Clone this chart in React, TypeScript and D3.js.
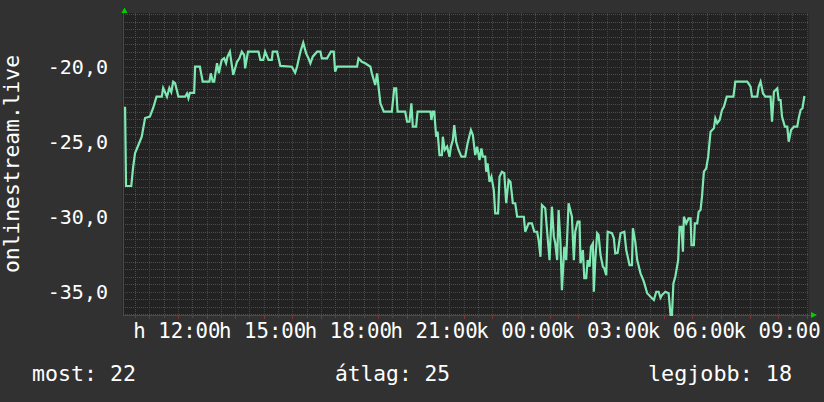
import * as d3 from 'd3';

// minutes after 10:00 (Monday) and temperature readings
const minutes = [
  9, 11, 22, 26, 30, 37, 44, 51, 61, 68,
  75, 86, 89, 97, 102, 106, 110, 114, 121, 135,
  139, 142, 145, 154, 156, 166, 172, 186, 189, 193,
  196, 202, 206, 208, 212, 217, 221, 224, 229, 236,
  244, 249, 254, 259, 261, 267, 289, 293, 299, 303,
  310, 317, 319, 328, 335, 359, 366, 370, 377, 383,
  389, 394, 398, 403, 412, 419, 422, 433, 441, 447,
  450, 454, 496, 499, 506, 513, 524, 527, 534, 538,
  541, 545, 552, 569, 574, 578, 581, 597, 601, 606,
  610, 613, 620, 623, 650, 652, 655, 658, 662, 665,
  669, 674, 676, 680, 685, 690, 693, 697, 700, 704,
  709, 715, 723, 728, 735, 739, 744, 748, 753, 757,
  760, 765, 767, 770, 774, 778, 783, 786, 792, 795,
  800, 805, 809, 814, 818, 823, 828, 832, 846, 849,
  856, 863, 868, 874, 877, 881, 884, 891, 895, 900,
  905, 909, 912, 916, 919, 923, 926, 931, 935, 940,
  947, 951, 954, 959, 963, 965, 970, 973, 977, 980,
  984, 987, 991, 993, 996, 1000, 1003, 1007, 1012, 1015,
  1019, 1022, 1031, 1035, 1038, 1043, 1049, 1057, 1061, 1068,
  1073, 1075, 1080, 1084, 1091, 1098, 1105, 1112, 1119, 1124,
  1129, 1133, 1136, 1143, 1150, 1154, 1157, 1160, 1164, 1170,
  1173, 1177, 1180, 1182, 1187, 1192, 1196, 1198, 1203, 1205,
  1210, 1213, 1217, 1220, 1224, 1229, 1233, 1238, 1245, 1248,
  1252, 1257, 1262, 1266, 1272, 1286, 1290, 1315, 1322, 1325,
  1336, 1339, 1343, 1348, 1353, 1364, 1367, 1371, 1378, 1381,
  1385, 1388, 1394, 1399, 1402, 1407, 1413, 1420, 1423, 1427,
  1431, 1435,
];

const temps = [
  -22.67, -27.95, -27.95, -26.67, -25.75, -25.22, -24.67, -23.42, -23.33, -22.75,
  -22.0, -22.0, -21.42, -22.0, -21.42, -21.69, -21.0, -21.1, -22.0, -22.0,
  -21.78, -22.1, -21.75, -21.75, -20.0, -20.0, -21.0, -21.0, -20.44, -21.0,
  -21.0, -19.77, -20.44, -20.09, -19.55, -19.44, -19.77, -19.33, -19.0, -20.55,
  -19.67, -19.44, -19.0, -19.22, -20.11, -19.0, -19.0, -19.55, -19.55, -19.0,
  -19.55, -19.55, -19.0, -19.0, -19.95, -20.0, -20.4, -20.0, -19.0, -18.4,
  -19.11, -19.44, -19.77, -19.33, -19.0, -19.0, -19.44, -19.44, -19.0, -19.0,
  -20.33, -20.0, -20.0, -19.44, -19.67, -19.77, -20.0, -20.44, -21.22, -20.44,
  -21.33, -22.44, -23.0, -23.0, -21.44, -21.44, -23.0, -23.0, -23.67, -23.67,
  -22.44, -24.0, -24.0, -23.0, -23.0, -23.55, -23.0, -23.0, -24.67, -24.33,
  -25.89, -25.89, -24.67, -25.55, -25.33, -26.0, -25.33, -24.89, -23.89, -25.0,
  -25.55, -26.0, -26.0, -25.1, -24.22, -24.55, -25.89, -25.33, -26.22, -25.44,
  -26.0, -26.0, -27.0, -26.44, -27.67, -27.33, -28.22, -29.77, -29.77, -27.33,
  -27.0, -27.1, -29.1, -27.55, -27.67, -29.1, -29.1, -30.0, -30.0, -31.0,
  -30.44, -30.44, -31.0, -31.0, -31.55, -32.67, -29.22, -29.44, -31.0, -32.89,
  -29.33, -31.33, -31.77, -32.89, -29.55, -31.77, -34.89, -32.0, -32.89, -29.1,
  -30.0, -32.89, -31.0, -30.33, -30.33, -33.1, -32.22, -34.1, -34.1, -32.89,
  -33.33, -32.0, -31.77, -35.0, -32.89, -31.1, -31.22, -32.55, -33.33, -33.44,
  -33.89, -31.0, -31.1, -31.44, -32.44, -32.4, -31.1, -31.0, -32.22, -33.22,
  -33.22, -30.77, -31.67, -32.89, -33.77, -34.33, -35.1, -35.33, -35.55, -35.0,
  -35.0, -35.4, -35.22, -35.0, -35.1, -36.55, -36.55, -34.44, -34.0, -32.89,
  -30.67, -30.67, -32.33, -30.0, -30.44, -30.1, -30.1, -31.89, -31.89, -30.44,
  -30.44, -29.67, -29.55, -28.67, -27.0, -26.77, -26.0, -24.33, -24.1, -23.44,
  -23.77, -23.55, -22.89, -22.67, -22.0, -22.0, -21.0, -21.0, -21.33, -22.0,
  -22.0, -21.33, -21.0, -21.77, -22.0, -22.0, -23.67, -21.67, -21.44, -22.22,
  -22.22, -23.33, -24.0, -24.0, -25.0, -24.22, -24.0, -24.0, -23.44, -22.89,
  -22.77, -21.95,
];

const labelMinutes = [120, 300, 480, 660, 840, 1020, 1200, 1380];
const labelTexts = ['h 12:00', 'h 15:00', 'h 18:00', 'h 21:00', 'k 00:00', 'k 03:00', 'k 06:00', 'k 09:00'];
const yMajor = [-20, -25, -30, -35];
const legendItems = ['most: 22', 'átlag: 25', 'legjobb: 18'];

const W = 824;
const H = 402;
const plot = { left: 122.5, right: 808.5, top: 13, bottom: 315 };
const FONT = '"DejaVu Sans Mono", monospace';

const App = () => {
  const x = d3.scaleLinear().domain([3.6, 1443.6]).range([plot.left, plot.right]);
  const y = d3.scaleLinear().domain([-36.55, -16.42]).range([plot.bottom, plot.top]);

  const points: [number, number][] = minutes.map((m, i) => [m, temps[i]]);
  const line = d3
    .line<[number, number]>()
    .x((d) => x(d[0]))
    .y((d) => y(d[1]));

  // grid positions
  const vMinor = d3.range(30, 1444, 30).filter((m) => m % 60 !== 0 && x(m) > plot.left + 1);
  const vMajor = d3.range(60, 1444, 60).filter((m) => x(m) < plot.right - 1);
  const hMinor = d3.range(-36.5, -16.4, 0.5).filter((v) => Math.abs(v % 5) > 0.01);

  const px = (v: number) => Math.round(v) + 0.5;

  return (
    <svg
      width={W}
      height={H}
      style={{ position: 'absolute', left: 0, top: 0, display: 'block' }}
    >
      <rect x={0} y={0} width={W} height={H} fill="#313131" />
      <rect
        x={plot.left}
        y={plot.top}
        width={plot.right - plot.left}
        height={plot.bottom - plot.top}
        fill="#222222"
      />

      {/* minor grid */}
      <g stroke="#4c4c4c" strokeWidth={1} strokeDasharray="1,1" shapeRendering="crispEdges">
        {hMinor.map((v) => (
          <line key={'h' + v} x1={plot.left} x2={plot.right} y1={px(y(v))} y2={px(y(v))} />
        ))}
        {vMinor.map((m) => (
          <line key={'v' + m} x1={px(x(m))} x2={px(x(m))} y1={plot.top} y2={plot.bottom} />
        ))}
      </g>

      {/* major grid */}
      <g stroke="#6e3434" strokeWidth={1} strokeDasharray="1,1" shapeRendering="crispEdges">
        {yMajor.map((v) => (
          <line key={'H' + v} x1={plot.left} x2={plot.right} y1={px(y(v))} y2={px(y(v))} />
        ))}
        {vMajor.map((m) => (
          <line key={'V' + m} x1={px(x(m))} x2={px(x(m))} y1={plot.top} y2={plot.bottom} />
        ))}
      </g>

      {/* axes and ticks */}
      <g stroke="#4a4a4a" strokeWidth={1} shapeRendering="crispEdges">
        <line x1={plot.left} x2={plot.right + 2} y1={plot.bottom + 0.5} y2={plot.bottom + 0.5} />
        <line x1={plot.left + 0.5} x2={plot.left + 0.5} y1={plot.top - 2} y2={plot.bottom} />
        {vMinor.map((m) => (
          <line key={'t' + m} x1={px(x(m))} x2={px(x(m))} y1={plot.bottom} y2={plot.bottom + 3} />
        ))}
      </g>
      <g stroke="#7c3a3a" strokeWidth={1} shapeRendering="crispEdges">
        {vMajor.map((m) => (
          <line key={'T' + m} x1={px(x(m))} x2={px(x(m))} y1={plot.bottom} y2={plot.bottom + 4} />
        ))}
      </g>

      {/* data */}
      <path d={line(points) || ''} fill="none" stroke="#7fe8b2" strokeWidth={2.2} strokeLinejoin="miter" />

      {/* arrows */}
      <path d="M121.5,13 L124.5,7.5 L127.5,13 Z" fill="#00d000" />
      <path d="M811,312 L817,315 L811,318 Z" fill="#00d000" />

      {/* y labels */}
      <g fill="#ffffff" fontFamily={FONT} fontSize={20} textAnchor="end">
        {yMajor.map((v) => (
          <text key={'yl' + v} x={108} y={y(v) + 7.3}>
            {v.toFixed(1).replace('.', ',')}
          </text>
        ))}
      </g>

      {/* x labels */}
      <g fill="#ffffff" fontFamily={FONT} fontSize={20.7} textAnchor="middle">
        {labelMinutes.map((m, i) => (
          <text key={'xl' + m} x={x(m) - 1} y={338}>
            {labelTexts[i]}
          </text>
        ))}
      </g>

      {/* vertical title */}
      <text
        transform="translate(19,164) rotate(-90)"
        fill="#ffffff"
        fontFamily={FONT}
        fontSize={21}
        textAnchor="middle"
        textLength={218}
        lengthAdjust="spacingAndGlyphs"
      >
        onlinestream.live
      </text>

      {/* legend */}
      <g fill="#ffffff" fontFamily={FONT} fontSize={22}>
        <text x={32} y={381} textLength={104} lengthAdjust="spacingAndGlyphs">
          {legendItems[0]}
        </text>
        <text x={335} y={381} textLength={115} lengthAdjust="spacingAndGlyphs">
          {legendItems[1]}
        </text>
        <text x={648} y={381} textLength={144} lengthAdjust="spacingAndGlyphs">
          {legendItems[2]}
        </text>
      </g>
    </svg>
  );
};

export default App;
